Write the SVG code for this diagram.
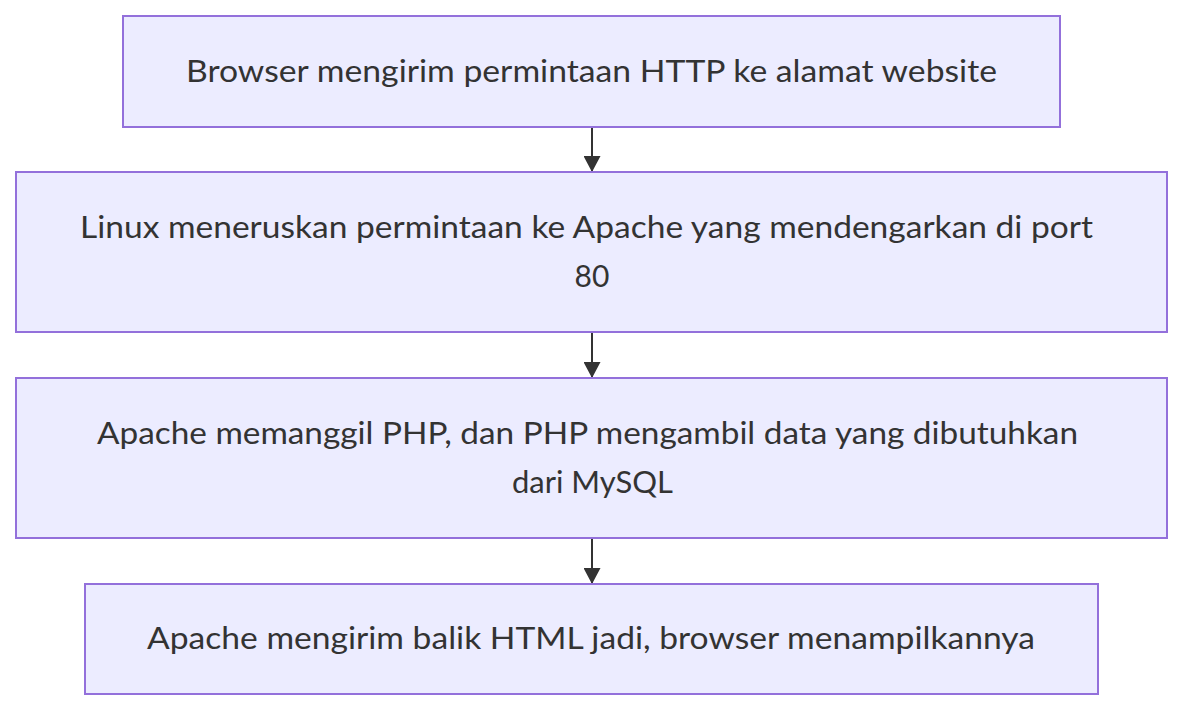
<svg xmlns="http://www.w3.org/2000/svg" width="1200" height="721" viewBox="0 0 1200 721">
<style>
.node rect{fill:#ECECFF;stroke:#9370DB;stroke-width:2}
.node text{font-family:"Lato","Liberation Sans",sans-serif;font-size:30px;fill:#333333;text-anchor:middle}
.edge{stroke:#333333;stroke-width:2;fill:none;marker-end:url(#arrow)}
</style>
<defs>
<marker id="arrow" viewBox="0 0 16 17" refX="15" refY="8.5" markerWidth="16" markerHeight="17" markerUnits="userSpaceOnUse" orient="auto">
<path d="M0,0 L16,8.5 L0,17 z" fill="#333333"/>
</marker>
</defs>
<rect width="1200" height="721" fill="#ffffff"/>
<g id="connectors">
<path class="edge" d="M592,127 L592,171"/>
<path class="edge" d="M592,333 L592,377"/>
<path class="edge" d="M592,539 L592,583"/>
</g>
<g id="node1" class="node">
<rect x="123" y="16" width="937" height="111"/>
<text x="591.5" y="82" textLength="811" lengthAdjust="spacingAndGlyphs">Browser mengirim permintaan HTTP ke alamat website</text>
</g>
<g id="node2" class="node">
<rect x="16" y="172" width="1151" height="160"/>
<text x="586.5" y="238" textLength="1013" lengthAdjust="spacingAndGlyphs">Linux meneruskan permintaan ke Apache yang mendengarkan di port</text>
<text x="592" y="287">80</text>
</g>
<g id="node3" class="node">
<rect x="16" y="378" width="1151" height="160"/>
<text x="587.5" y="444" textLength="981" lengthAdjust="spacingAndGlyphs">Apache memanggil PHP, dan PHP mengambil data yang dibutuhkan</text>
<text x="592.5" y="493" textLength="161" lengthAdjust="spacingAndGlyphs">dari MySQL</text>
</g>
<g id="node4" class="node">
<rect x="85" y="584" width="1013" height="110"/>
<text x="591" y="649" textLength="888" lengthAdjust="spacingAndGlyphs">Apache mengirim balik HTML jadi, browser menampilkannya</text>
</g>
</svg>
